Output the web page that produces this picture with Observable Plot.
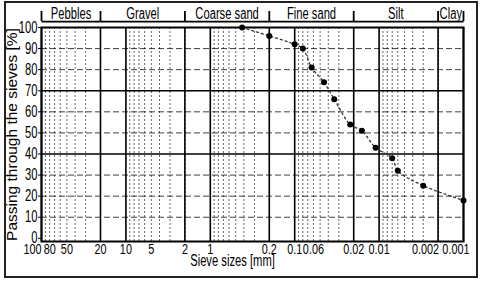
<!DOCTYPE html>
<html><head><meta charset="utf-8">
<script src="https://cdn.jsdelivr.net/npm/d3@7"></script>
<script src="https://cdn.jsdelivr.net/npm/@observablehq/plot@0.6"></script>
<style>
html,body{margin:0;padding:0;background:#fff;}
#wrap{position:relative;width:480px;height:281px;}
#border{position:absolute;left:4px;top:1px;width:474px;height:277px;box-sizing:border-box;border:2px solid #222;pointer-events:none;}
#wrap svg{display:block;}
</style></head><body>
<div id="wrap"><div id="border"></div></div>
<script>
// Particle size distribution (sieve analysis)
const sizes   = [0.42, 0.2, 0.1, 0.08, 0.063, 0.045, 0.034, 0.022, 0.016, 0.011, 0.007, 0.006, 0.003, 0.001];
const passing = [100,  96,  92,  90,   81,    74,    66,    54,    51,    43,    38,    32,    25,    18];

const bandNames = ["Pebbles", "Gravel", "Coarse sand", "Fine sand", "Silt", "Clay"];
const bandFrom  = [100, 20, 2, 0.2, 0.02, 0.002];
const bandTo    = [20, 2, 0.2, 0.02, 0.002, 0.001];

const xTickValues = [100, 80, 50, 20, 10, 5, 2, 1, 0.2, 0.1, 0.06, 0.02, 0.01, 0.002, 0.001];
const yTickValues = [0, 10, 20, 30, 40, 50, 60, 70, 80, 90, 100];
const decades = [100, 10, 1, 0.1, 0.01, 0.001];
const multipliers = [2, 3, 4, 5, 6, 7, 8, 9];
const ySolidLines = [40, 70];

const points = sizes.map((s, i) => ({size: s, pct: passing[i]}));
const bands = bandNames.map((n, i) => ({name: n, from: bandFrom[i], to: bandTo[i]}));
const bandEdges = Array.from(new Set([...bandFrom, ...bandTo]));
const minorGrid = [];
decades.slice(1).forEach(d => multipliers.forEach(m => minorGrid.push(+(d * m).toPrecision(3))));
const majorGrid = Array.from(new Set([...decades, ...bandFrom]));
const yDashed = yTickValues.filter(v => v > 0 && v < 100 && !ySolidLines.includes(v));
const xLeftLabels = xTickValues.slice(0, 1);
const xMidLabels = xTickValues.slice(1, -2);
const xNextLabels = xTickValues.slice(-2, -1);
const xLastLabels = xTickValues.slice(-1);

const FONT = '"Liberation Sans",Arial,Helvetica,sans-serif';
const SQUEEZE = 0.7;

const chart = Plot.plot({
  width: 480, height: 281,
  marginLeft: 41, marginRight: 17, marginTop: 27, marginBottom: 40,
  style: {background: "#fff", color: "#000", fontSize: "16px", fontFamily: FONT},
  x: {type: "log", domain: [100, 0.001], axis: null},
  y: {domain: [-1.5, 100], axis: null},
  marks: [
    Plot.ruleX(minorGrid, {stroke: "#000", strokeOpacity: 0.6, strokeDasharray: "2,2"}),
    Plot.ruleX(majorGrid, {stroke: "#000", strokeWidth: 1.6}),
    Plot.ruleY(yDashed, {stroke: "#000", strokeOpacity: 0.75, strokeDasharray: "6,3"}),
    Plot.ruleY(ySolidLines, {stroke: "#000", strokeWidth: 1.5}),
    Plot.frame({stroke: "#000", strokeWidth: 2}),
    Plot.line(points, {x: "size", y: "pct", curve: "catmull-rom", stroke: "#333", strokeWidth: 1.3, strokeDasharray: "2,3"}),
    Plot.dot(points, {x: "size", y: "pct", r: 3, fill: "#000", stroke: "none"}),
    Plot.axisY({ticks: yTickValues, tickSize: 3, tickPadding: 1, label: null, fontSize: 16}),
    Plot.text(xLeftLabels, {x: d => d, frameAnchor: "bottom", dy: 12, textAnchor: "end", text: d => String(d), fontSize: 15.5}),
    Plot.text(xMidLabels, {x: d => d, frameAnchor: "bottom", dy: 12, text: d => String(d), fontSize: 15.5}),
    Plot.text(xNextLabels, {x: d => d, frameAnchor: "bottom", dy: 12, dx: 1, textAnchor: "end", text: d => String(d), fontSize: 15.5}),
    Plot.text(xLastLabels, {x: d => d, frameAnchor: "bottom", dy: 12, dx: 6, textAnchor: "end", text: d => String(d), fontSize: 15.5}),
    Plot.text(["Sieve sizes [mm]"], {frameAnchor: "bottom", dx: -20, dy: 24, text: d => d, fontSize: 16}),
    Plot.text(["Passing through the sieves [%]"], {frameAnchor: "left", textAnchor: "middle", dx: -29, rotate: -90, text: d => d, fontSize: 15.5}),
    Plot.link(bands, {x1: "from", x2: "to", y1: 102.8, y2: 102.8, stroke: "#000", strokeWidth: 1.8}),
    Plot.ruleX(bandEdges, {y1: 102.8, y2: 107.6, stroke: "#000", strokeWidth: 1.8}),
    Plot.text(bands, {x: d => Math.sqrt(d.from * d.to), y: 106.4, text: "name", fontSize: 16})
  ]
});
document.getElementById("wrap").prepend(chart);
// Narrow (condensed) lettering of the original for horizontal texts
chart.querySelectorAll("text").forEach(t => {
  if (t.textContent.startsWith("Passing")) return;
  const L = t.getComputedTextLength();
  if (L > 0) {
    t.setAttribute("textLength", (L * SQUEEZE).toFixed(2));
    t.setAttribute("lengthAdjust", "spacingAndGlyphs");
  }
});
</script>
</body></html>
